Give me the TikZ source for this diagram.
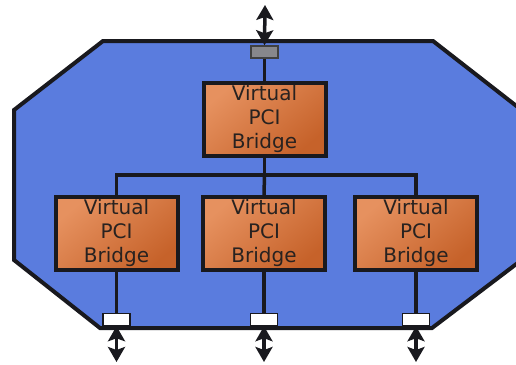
\documentclass[tikz,border=0pt]{standalone}
\usepackage{fontspec}
\newfontfamily\vfont{DejaVu Sans}
\usetikzlibrary{arrows.meta}
\definecolor{panelblue}{RGB}{90,124,222}
\definecolor{brA}{RGB}{230,145,95}
\definecolor{brB}{RGB}{198,98,42}
\definecolor{txt}{RGB}{40,34,32}
\definecolor{edge}{RGB}{25,25,30}
\definecolor{portgrayc}{RGB}{135,135,140}
\begin{document}
\begin{tikzpicture}[x=1pt,y=-1pt,
  panel/.style={fill=panelblue, draw=edge, line width=4pt, line join=miter},
  bridgebox/.style={draw=edge, line width=4pt, minimum width=122pt, minimum height=73pt, inner sep=0pt,
    top color=brA, bottom color=brB, shading angle=40},
  bridgetext/.style={font=\vfont\fontsize{20}{24}\selectfont, text=txt, align=center, inner sep=0pt, anchor=north},
  portg/.style={draw=black!75, fill=portgrayc, line width=1.5pt, minimum width=27pt, minimum height=12pt, inner sep=0pt},
  portw/.style={draw=edge, fill=white, line width=1.5pt, minimum width=27pt, minimum height=12pt, inner sep=0pt},
  wire/.style={draw=edge, line width=3.5pt},
  biarrow/.style={draw=edge, line width=3.5pt, {Stealth[length=15pt,width=17pt,inset=3pt]}-{Stealth[length=15pt,width=17pt,inset=3pt]}}
]
\useasboundingbox (0,0) rectangle (516,364);
\clip (0,0) rectangle (516,364);
% panel
\path[panel] (103,41) -- (433,41) -- (519,108) -- (519,262) -- (432,328) -- (100,328) -- (14,260) -- (14,110) -- cycle;
% coordinates
\coordinate (atop) at (265,5);
\coordinate (a1) at (116.5,362);
\coordinate (a2) at (264,362);
\coordinate (a3) at (416,362);
\coordinate (busC) at (264.5,175);
\coordinate (busL) at (116.5,175);
\coordinate (busR) at (416,175);
% nodes
\node[portg] (ptop) at (264.5,52) {};
\node[portw] (p1) at (116.5,319.5) {};
\node[portw] (p2) at (264,319.5) {};
\node[portw] (p3) at (416,319.5) {};
% arrows (behind ports)
\draw[biarrow] (atop) -- (ptop.north);
\draw[biarrow] (a1) -- (p1.south);
\draw[biarrow] (a2) -- (p2.south);
\draw[biarrow] (a3) -- (p3.south);
% redraw ports on top
\node[portg] at (ptop) {};
\node[portw] at (p1) {};
\node[portw] at (p2) {};
\node[portw] at (p3) {};
% bridges
\node[bridgebox] (b0) at (264.5,119) {};
\node[bridgebox] (b1) at (116.5,233.5) {};
\node[bridgebox] (b2) at (264,233.5) {};
\node[bridgebox] (b3) at (416,233.5) {};
\node[bridgetext] (t0) at (264.5,85) {Virtual\\PCI\\Bridge};
\node[bridgetext] (t1) at (116.5,199.5) {Virtual\\PCI\\Bridge};
\node[bridgetext] (t2) at (264,199.5) {Virtual\\PCI\\Bridge};
\node[bridgetext] (t3) at (416,199.5) {Virtual\\PCI\\Bridge};
% wires
\draw[wire] (ptop.south) -- (b0.north);
\draw[wire] (b0.south) -- (busC);
\draw[wire, line cap=rect] (busL) -- (busR);
\draw[wire] (busL) -- (b1.north);
\draw[wire] (busC) -- (b2.north);
\draw[wire] (busR) -- (b3.north);
\draw[wire] (b1.south) -- (p1.north);
\draw[wire] (b2.south) -- (p2.north);
\draw[wire] (b3.south) -- (p3.north);
\end{tikzpicture}
\end{document}
